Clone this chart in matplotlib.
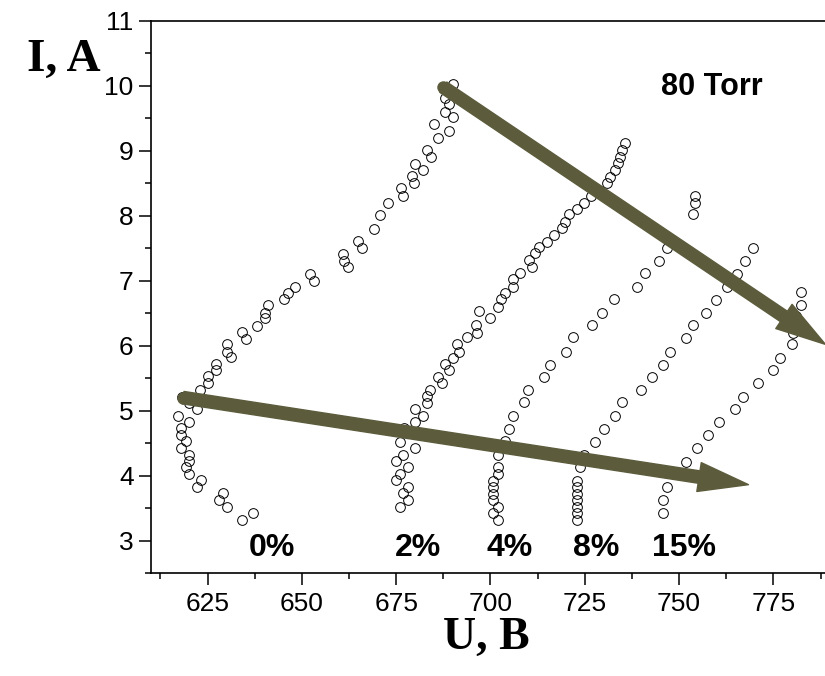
import matplotlib.pyplot as plt
from matplotlib.ticker import MultipleLocator

# U (V) / I (A) readings for each admixture, 80 Torr
u_0 = [637.1, 634.2, 630.2, 628.0, 629.2, 622.1, 623.3, 620.1, 619.2, 620.1, 620.1, 618.0,
       619.2, 618.0, 618.0, 620.1, 617.1, 622.1, 620.1, 618.1, 623.1, 625.0, 625.0, 627.2,
       627.2, 630.2, 630.2, 631.1, 634.2, 635.2, 638.2, 640.2, 640.2, 641.1, 645.3, 646.3,
       648.2, 652.2, 653.1, 661.0, 661.2, 662.1, 665.0, 666.0, 669.0, 670.7, 672.9, 676.2,
       676.9, 679.6, 679.2, 680.0, 682.1, 683.1, 684.2, 684.9, 686.2, 689.0, 688.0, 690.0,
       689.0, 688.0, 690.2, 690.2]
i_0 = [3.42, 3.31, 3.52, 3.63, 3.73, 3.83, 3.93, 4.03, 4.13, 4.22, 4.32, 4.43,
       4.53, 4.62, 4.73, 4.82, 4.92, 5.02, 5.12, 5.21, 5.32, 5.42, 5.53, 5.62,
       5.72, 6.03, 5.91, 5.82, 6.21, 6.11, 6.31, 6.42, 6.51, 6.62, 6.72, 6.81,
       6.91, 7.11, 7.00, 7.41, 7.31, 7.21, 7.61, 7.51, 7.80, 8.01, 8.20, 8.43,
       8.31, 8.50, 8.62, 8.80, 8.71, 9.02, 8.91, 9.42, 9.20, 9.31, 9.60, 9.52,
       9.72, 9.81, 9.91, 10.03]

u_2 = [676.0, 678.1, 676.9, 678.1, 675.0, 676.0, 678.1, 675.0, 676.9, 680.0, 676.0, 677.1,
       680.0, 682.1, 680.0, 683.1, 683.1, 684.0, 687.1, 686.0, 689.0, 688.0, 690.0, 691.7,
       691.0, 693.9, 696.4, 696.1, 699.9, 697.0, 701.9, 702.8, 703.9, 706.1, 705.9, 707.9,
       711.1, 710.1, 711.9, 713.0, 715.0, 716.9, 718.9, 719.8, 720.9, 722.9, 724.9, 726.6,
       728.6, 730.9, 731.8, 733.1, 733.7, 734.4, 735.0, 735.7]
i_2 = [3.52, 3.63, 3.73, 3.83, 3.93, 4.03, 4.13, 4.22, 4.32, 4.43, 4.52, 4.74,
       4.83, 4.92, 5.02, 5.12, 5.22, 5.32, 5.42, 5.52, 5.62, 5.72, 5.81, 5.91,
       6.02, 6.13, 6.20, 6.32, 6.43, 6.53, 6.60, 6.72, 6.81, 6.91, 7.02, 7.12,
       7.21, 7.32, 7.42, 7.52, 7.60, 7.71, 7.81, 7.91, 8.02, 8.11, 8.20, 8.30,
       8.40, 8.50, 8.60, 8.71, 8.81, 8.91, 9.02, 9.12]

u_4 = [701.9, 700.8, 701.9, 700.8, 700.8, 700.8, 700.8, 701.9, 701.9, 701.9, 703.9, 705.0,
       705.9, 708.9, 709.9, 714.1, 715.8, 720.0, 721.9, 726.9, 729.7, 732.8, 738.8, 740.9,
       744.8, 746.8, 753.7, 754.3, 754.3]
i_4 = [3.31, 3.42, 3.52, 3.62, 3.72, 3.83, 3.92, 4.03, 4.13, 4.31, 4.53, 4.72,
       4.91, 5.13, 5.31, 5.51, 5.71, 5.91, 6.14, 6.32, 6.50, 6.72, 6.91, 7.12,
       7.31, 7.50, 8.02, 8.20, 8.30]

u_8 = [722.9, 722.9, 722.9, 722.9, 722.9, 722.9, 722.9, 723.8, 724.9, 727.8, 730.0, 732.9,
       734.9, 739.9, 742.8, 745.7, 747.7, 751.8, 753.8, 757.2, 759.9, 762.8, 765.4, 767.6,
       769.5]
i_8 = [3.31, 3.42, 3.52, 3.62, 3.72, 3.83, 3.92, 4.13, 4.32, 4.52, 4.72, 4.92,
       5.13, 5.31, 5.51, 5.71, 5.91, 6.12, 6.32, 6.51, 6.71, 6.91, 7.11, 7.31,
       7.51]

u_15 = [745.7, 745.7, 746.8, 751.8, 754.7, 757.7, 760.7, 764.9, 766.9, 770.8, 774.9, 776.8,
        779.9, 780.3, 781.1, 782.4, 782.4]
i_15 = [3.42, 3.62, 3.83, 4.21, 4.42, 4.62, 4.82, 5.02, 5.21, 5.42, 5.62, 5.81,
        6.02, 6.20, 6.46, 6.63, 6.83]

labels = ['0%', '2%', '4%', '8%', '15%']
label_u = [642.1, 680.8, 705.0, 728.0, 751.3]
label_i = 2.88

# trend arrows (start -> tip)
arrow_up = [(687.5, 9.98), (788.8, 6.02)]
arrow_low = [(618.5, 5.2), (768.4, 3.86)]
olive = '#5c5c3d'

fig = plt.figure(figsize=(8.25, 6.76), dpi=100)
ax = fig.add_axes([0.183, 0.1524, 0.823, 0.8166])

for u, i in [(u_0, i_0), (u_2, i_2), (u_4, i_4), (u_8, i_8), (u_15, i_15)]:
    ax.plot(u, i, 'o', mfc='none', mec='black', ms=7, mew=0.7, zorder=2)

for (s, t) in [arrow_up, arrow_low]:
    ax.annotate('', xy=t, xytext=s, annotation_clip=False, zorder=3,
                arrowprops=dict(arrowstyle='simple,head_length=1.8,head_width=1.05,tail_width=0.45',
                                mutation_scale=20, color=olive, shrinkA=0, shrinkB=0))
    ax.plot(s[0], s[1], 'o', ms=9, color=olive, mec='none', zorder=3)

for lab, u in zip(labels, label_u):
    ax.text(u, label_i, lab, ha='center', va='center', fontsize=23, fontweight='bold',
            family='Liberation Sans')
ax.text(758.8, 9.98, '80 Torr', ha='center', va='center', fontsize=22, fontweight='bold',
        family='Liberation Sans')

ax.set_xlim(610, 790)
ax.set_ylim(2.5, 11)
ax.xaxis.set_major_locator(MultipleLocator(25))
ax.xaxis.set_minor_locator(MultipleLocator(12.5))
ax.yaxis.set_major_locator(MultipleLocator(1))
ax.yaxis.set_minor_locator(MultipleLocator(0.5))
ax.tick_params(which='major', direction='out', length=8.5, width=1.1, labelsize=19, pad=4)
ax.tick_params(axis='x', which='major', pad=5)
ax.tick_params(which='minor', direction='out', length=4.5, width=1.1)
for lab in ax.get_xticklabels() + ax.get_yticklabels():
    lab.set_family('Liberation Sans')
for sp in ax.spines.values():
    sp.set_linewidth(1.2)

fig.text(0.077, 0.912, 'I, A', ha='center', va='center', fontsize=34, fontweight='bold',
         family='Liberation Serif')
fig.text(0.59, 0.056, 'U, B', ha='center', va='center', fontsize=33, fontweight='bold',
         family='Liberation Serif')

fig.savefig('out.png', dpi=100)
